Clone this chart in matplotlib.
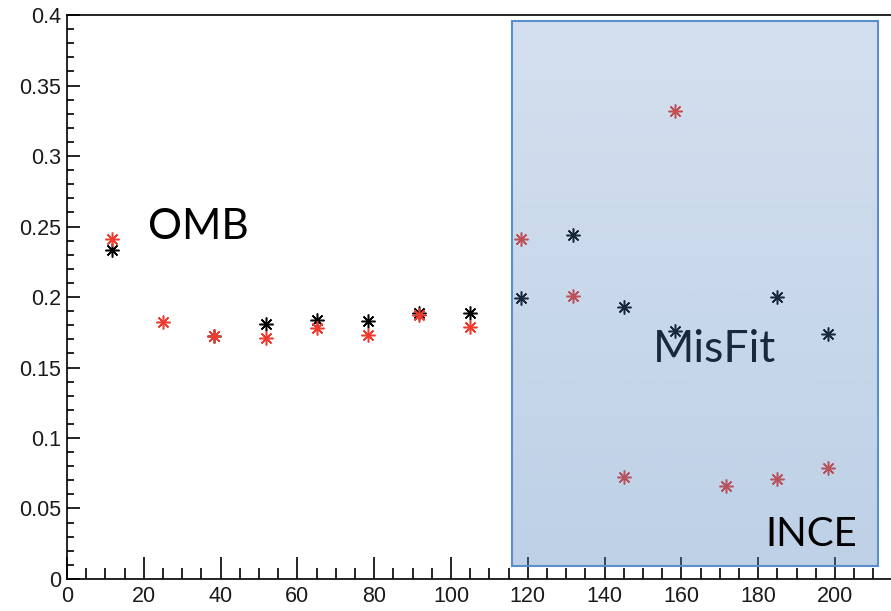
import numpy as np
import matplotlib.pyplot as plt
from matplotlib.patches import Rectangle
from matplotlib.ticker import MultipleLocator

# black series
x_black = [11.7, 38.4, 51.7, 65.0, 78.4, 91.7, 105.0, 118.3, 131.7, 145.0, 158.4, 185.0, 198.3]
y_black = [0.233, 0.172, 0.181, 0.184, 0.183, 0.189, 0.189, 0.199, 0.244, 0.193, 0.176, 0.200, 0.174]

# red series
x_red = [11.7, 25.0, 38.4, 51.7, 65.0, 78.4, 91.7, 105.0, 118.3, 131.7, 145.0, 158.4, 171.7, 185.0, 198.3]
y_red = [0.241, 0.182, 0.172, 0.171, 0.178, 0.173, 0.187, 0.179, 0.241, 0.201, 0.072, 0.332, 0.066, 0.071, 0.079]

# shaded "MisFit" region
box_x = (115.9, 211.2)
box_y = (0.009, 0.396)

fig = plt.figure(figsize=(8.91, 6.11), dpi=100)
ax = fig.add_axes([0.0752, 0.0524, 0.9248, 0.923])

star = (8, 2, 0)
ax.plot(x_black, y_black, linestyle='none', marker=star, markersize=10,
        markeredgewidth=1.1, color='black', zorder=3)
ax.plot(x_red, y_red, linestyle='none', marker=star, markersize=10,
        markeredgewidth=1.1, color='#ef3a2d', zorder=3)

ax.text(21, 0.2495, 'OMB', fontsize=30.5, family='Lato', color='black', va='center', zorder=2)
ax.text(152.5, 0.163, 'MisFit', fontsize=32, family='Lato', color='black', va='center', zorder=2)

# translucent blue box with a soft vertical gradient, drawn over the markers
grad = np.zeros((100, 1, 4))
grad[:, 0, 0] = 79 / 255
grad[:, 0, 1] = 129 / 255
grad[:, 0, 2] = 189 / 255
grad[:, 0, 3] = np.linspace(0.25, 0.37, 100)
ax.imshow(grad, extent=[box_x[0], box_x[1], box_y[0], box_y[1]], origin='upper',
          aspect='auto', zorder=4, interpolation='bilinear')
ax.add_patch(Rectangle((box_x[0], box_y[0]), box_x[1] - box_x[0], box_y[1] - box_y[0],
                       fill=False, edgecolor='#5b8fcc', linewidth=1.5, zorder=5))

ax.text(182, 0.0235, 'INCE', fontsize=29, family='Lato', color='black', va='baseline', zorder=6)

ax.set_xlim(0, 214.6)
ax.set_ylim(0, 0.4)

ax.xaxis.set_major_locator(MultipleLocator(20))
ax.xaxis.set_minor_locator(MultipleLocator(5))
ax.yaxis.set_major_locator(MultipleLocator(0.05))
ax.yaxis.set_minor_locator(MultipleLocator(0.01))
ax.yaxis.set_major_formatter(plt.FuncFormatter(lambda v, p: ('%g' % round(v, 3))))

ax.tick_params(which='both', direction='in', top=False, right=False,
               labelsize=15.5, labelcolor='#1a1a1a', width=1.2)
ax.tick_params(axis='y', which='major', length=9, pad=4)
ax.tick_params(axis='y', which='minor', length=5)
ax.tick_params(axis='x', which='major', length=16, pad=5)
ax.tick_params(axis='x', which='minor', length=8)
for lab in ax.get_xticklabels() + ax.get_yticklabels():
    lab.set_family('Liberation Sans')

ax.spines['right'].set_visible(False)
for s in ['left', 'bottom', 'top']:
    ax.spines[s].set_linewidth(1.2)

fig.savefig('out.png', dpi=100)
